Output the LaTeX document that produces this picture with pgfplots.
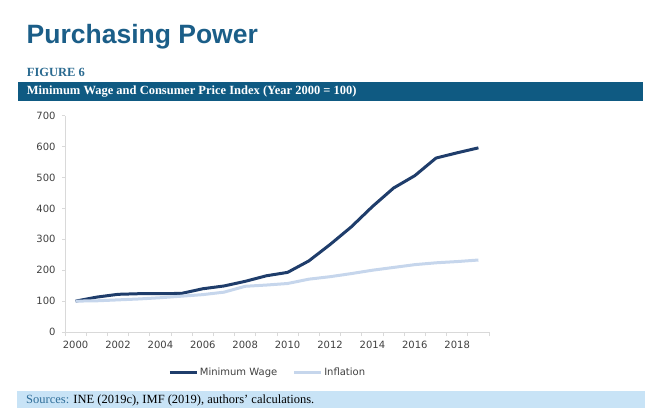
\documentclass[border=0pt]{standalone}
\usepackage{fontspec}
\setmainfont{Liberation Serif}
\newfontfamily\arialfont{Liberation Sans}
\newfontfamily\verdanafont{DejaVu Sans}
\usepackage{pgfplots}
\pgfplotsset{compat=1.18}
\definecolor{titleblue}{HTML}{1B5E88}
\definecolor{figblue}{HTML}{2A6A90}
\definecolor{bannerblue}{HTML}{0F5A82}
\definecolor{sourcebar}{HTML}{C8E3F6}
\definecolor{sourceteal}{HTML}{2F6E99}
\definecolor{axisgray}{HTML}{D9D9D9}
\definecolor{labelgray}{HTML}{404040}
\definecolor{mwblue}{HTML}{1F3D6B}
\definecolor{inflblue}{HTML}{C6D6EC}
\pgfplotstableread{
year mw
2000 100
2001 113
2002 122
2003 124
2004 124
2005 125
2006 140
2007 149
2008 164
2009 182
2010 193
2011 230
2012 283
2013 340
2014 406
2015 466
2016 506
2017 563
2018 580
2019 596
}\mwtable
\pgfplotstableread{
year infl
2000 100
2001 101
2002 104
2003 107
2004 111
2005 116
2006 121
2007 129
2008 148
2009 152
2010 157
2011 171
2012 179
2013 189
2014 200
2015 209
2016 218
2017 224
2018 228
2019 233
}\infltable
\begin{document}
\begin{tikzpicture}[x=1bp,y=1bp]
\path[use as bounding box] (0,0) rectangle (658,-414);
\node[anchor=base west, inner sep=0, text=titleblue, font=\arialfont\bfseries\fontsize{26.5bp}{30bp}\selectfont] at (26.5,-43.3) {Purchasing Power};
\node[anchor=base west, inner sep=0, text=figblue, font=\bfseries\fontsize{12.5bp}{14bp}\selectfont] at (26.7,-76) {FIGURE 6};
\fill[bannerblue] (18,-82) rectangle (643,-101);
\node[anchor=base west, inner sep=0, text=white, font=\bfseries\fontsize{12.5bp}{14bp}\selectfont] at (26.7,-94.5) {Minimum Wage and Consumer Price Index (Year 2000 = 100)};
\fill[sourcebar] (17,-391) rectangle (645,-408);
\node[anchor=base west, inner sep=0, font=\fontsize{12.5bp}{14bp}\selectfont] at (26,-403.3) {\textcolor{sourceteal}{Sources:} INE (2019c), IMF (2019), authors’ calculations.};
\begin{axis}[
  at={(65bp,-332bp)}, anchor=south west,
  scale only axis, width=424bp, height=216.3bp,
  xmin=1999.5, xmax=2019.5, ymin=0, ymax=700,
  axis lines*=left,
  axis line style={draw=axisgray, line width=1bp},
  xtick={2000,2002,...,2018},
  minor xtick={1999.5,2000.5,...,2019.5},
  ytick={0,100,...,700},
  tick align=outside,
  major tick length=3bp, minor tick length=4bp,
  tick style={draw=axisgray, line width=0.8bp},
  major x tick style={draw=none},
  /pgf/number format/assume math mode=true,
  /pgf/number format/1000 sep={},
  tick label style={font=\verdanafont\fontsize{10bp}{12bp}\selectfont, text=labelgray},
  yticklabel style={xshift=-3bp},
  xticklabel style={yshift=-3bp},
  legend columns=2,
  legend style={at={(0.4776,-0.185)}, anchor=center, draw=none, fill=none,
    font=\verdanafont\fontsize{10bp}{12bp}\selectfont, text=labelgray,
    /tikz/every even column/.style={column sep=14bp}, nodes={inner sep=1.5bp}},
  legend image code/.code={\draw[#1] (0bp,0bp) -- (27bp,0bp);},
]
\addplot[mwblue, line width=3bp, line join=round] table[x=year, y=mw] {\mwtable};
\addlegendentry{Minimum Wage}
\addplot[inflblue, line width=3bp, line join=round] table[x=year, y=infl] {\infltable};
\addlegendentry{Inflation}
\end{axis}
\end{tikzpicture}
\end{document}
